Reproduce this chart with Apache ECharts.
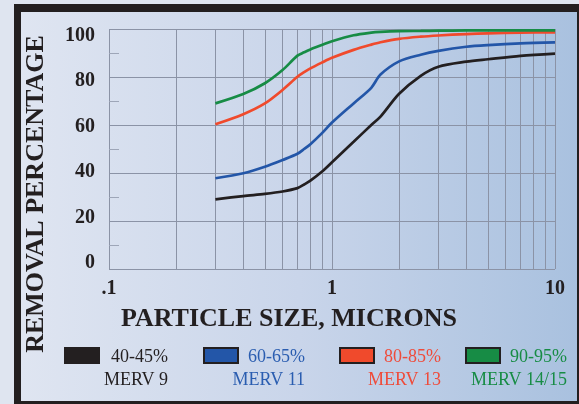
<!DOCTYPE html>
<html>
<head>
<meta charset="utf-8">
<script src="https://cdn.jsdelivr.net/npm/echarts@6/dist/echarts.min.js"></script>
<style>
html,body{margin:0;padding:0;width:579px;height:404px;overflow:hidden;background:#dfe5f0;}
#frame{position:absolute;left:14px;top:4px;width:556px;height:389px;border-left:7px solid #231f20;border-top:8px solid #231f20;border-right:8px solid #231f20;border-bottom:8px solid #231f20;background:linear-gradient(to right,#dfe5f1 0%,#c9d5ea 50%,#a9c1df 100%);}
#chart{position:absolute;left:0;top:0;width:579px;height:404px;}
</style>
</head>
<body>
<div id="frame"></div>
<div id="chart"></div>
<script>
// Particle sizes (microns) sampled along the curves
const sizes = [0.3, 0.4, 0.5, 0.6, 0.7, 0.75, 0.8, 0.9, 1, 1.25, 1.5, 1.65, 2, 2.5, 3, 4, 5, 7, 10];
// Removal percentage for each filter rating
const merv9    = [29, 30.4, 31.3, 32.3, 33.7, 35.2, 36.8, 40.5, 44.5, 53, 60, 63.5, 73, 80.5, 84.3, 86.4, 87.4, 88.8, 89.7];
const merv11   = [37.8, 39.9, 42.6, 45.4, 48, 50, 52, 56.5, 61, 69, 75.5, 81, 86.5, 89.3, 90.9, 92.6, 93.3, 94, 94.4];
const merv13   = [60.3, 64.5, 69, 74.6, 80.1, 82, 83.6, 86, 88, 91.3, 93.5, 94.5, 95.9, 96.8, 97.3, 97.9, 98.2, 98.5, 98.6];
const merv1415 = [69, 72.9, 77.4, 82.9, 88.9, 90.3, 91.5, 93.3, 94.9, 97.4, 98.5, 98.8, 99.1, 99.2, 99.3, 99.4, 99.4, 99.4, 99.4];

const legendRanges = ['40-45%', '60-65%', '80-85%', '90-95%'];
const legendMerv = ['MERV 9', 'MERV 11', 'MERV 13', 'MERV 14/15'];
const yTickValues = [0, 20, 40, 60, 80, 100];
const xTickLabels = {0.1: '.1', 1: '1', 10: '10'};
const minorGridSizes = [0.2, 0.3, 0.4, 0.5, 0.6, 0.7, 0.8, 0.9, 2, 3, 4, 5, 6, 7, 8, 9];

const lineColors = ['#231f20', '#2356a8', '#f04a2c', '#178c45'];
const textColors = ['#231f20', '#2a5db0', '#ef4b3a', '#178c45'];
const seriesData = [merv9, merv11, merv13, merv1415];

const gridColor = '#8b93a6';
const serif = '"Liberation Serif", "Times New Roman", serif';

const chart = echarts.init(document.getElementById('chart'), null, {renderer: 'canvas'});

const series = seriesData.map((vals, i) => ({
  name: legendMerv[i],
  type: 'line',
  data: sizes.map((x, j) => [x, vals[j]]),
  smooth: 0.3,
  showSymbol: false,
  z: 3,
  lineStyle: {color: lineColors[i], width: 2.7},
  itemStyle: {color: lineColors[i]}
}));
series.unshift({
  type: 'line',
  data: [],
  silent: true,
  markLine: {
    z: 1,
    silent: true,
    symbol: ['none', 'none'],
    label: {show: false},
    lineStyle: {color: gridColor, width: 1, type: 'solid'},
    emphasis: {disabled: true},
    data: minorGridSizes.map(v => ({xAxis: v}))
  }
});

// Legend built with graphic elements
const boxX = [65, 204, 340, 466];
const textRight = [168, 305, 441, 567];
const legendGraphics = [];
legendRanges.forEach((r, i) => {
  legendGraphics.push({
    type: 'rect',
    shape: {x: boxX[i], y: 348, width: 34, height: 15},
    style: {fill: lineColors[i], stroke: '#231f20', lineWidth: 2}
  });
  legendGraphics.push({
    type: 'text',
    x: textRight[i], y: 357,
    style: {text: r, fill: textColors[i], font: '18px ' + serif, align: 'right', verticalAlign: 'middle'}
  });
  legendGraphics.push({
    type: 'text',
    x: textRight[i], y: 380,
    style: {text: legendMerv[i], fill: textColors[i], font: '18px ' + serif, align: 'right', verticalAlign: 'middle'}
  });
});
legendGraphics.push({
  type: 'text',
  x: 36, y: 194, rotation: Math.PI / 2,
  style: {text: 'REMOVAL PERCENTAGE', fill: '#231f20', font: 'bold 26px ' + serif, align: 'center', verticalAlign: 'middle'}
});
legendGraphics.push({
  type: 'text',
  x: 289, y: 319,
  style: {text: 'PARTICLE SIZE, MICRONS', fill: '#231f20', font: 'bold 26px ' + serif, align: 'center', verticalAlign: 'middle'}
});

chart.setOption({
  animation: false,
  backgroundColor: 'transparent',
  grid: {left: 109, right: 24, top: 29, bottom: 135, containLabel: false},
  xAxis: {
    type: 'log',
    logBase: 10,
    min: 0.1,
    max: 10,
    axisLine: {show: false},
    axisTick: {show: false},
    splitLine: {show: true, lineStyle: {color: gridColor, width: 1}},
    axisLabel: {
      margin: 10,
      color: '#231f20',
      fontFamily: serif,
      fontWeight: 'bold',
      fontSize: 20,
      formatter: v => xTickLabels[v] !== undefined ? xTickLabels[v] : ''
    }
  },
  yAxis: [{
    type: 'value',
    min: 0,
    max: 100,
    interval: 20,
    axisLine: {show: false},
    axisTick: {show: false, inside: true},
    minorTick: {show: true, splitNumber: 2, length: 10, lineStyle: {color: '#9ea6b8', width: 1}},
    splitLine: {show: true, lineStyle: {color: gridColor, width: 1}},
    axisLabel: {show: false}
  }, {
    type: 'value',
    position: 'left',
    min: -2.64,
    max: 102.96,
    axisLine: {show: false},
    axisTick: {show: false},
    splitLine: {show: false},
    axisLabel: {
      customValues: yTickValues,
      margin: 14,
      color: '#231f20',
      fontFamily: serif,
      fontWeight: 'bold',
      fontSize: 20
    }
  }],
  graphic: legendGraphics,
  series: series
});
</script>
</body>
</html>
